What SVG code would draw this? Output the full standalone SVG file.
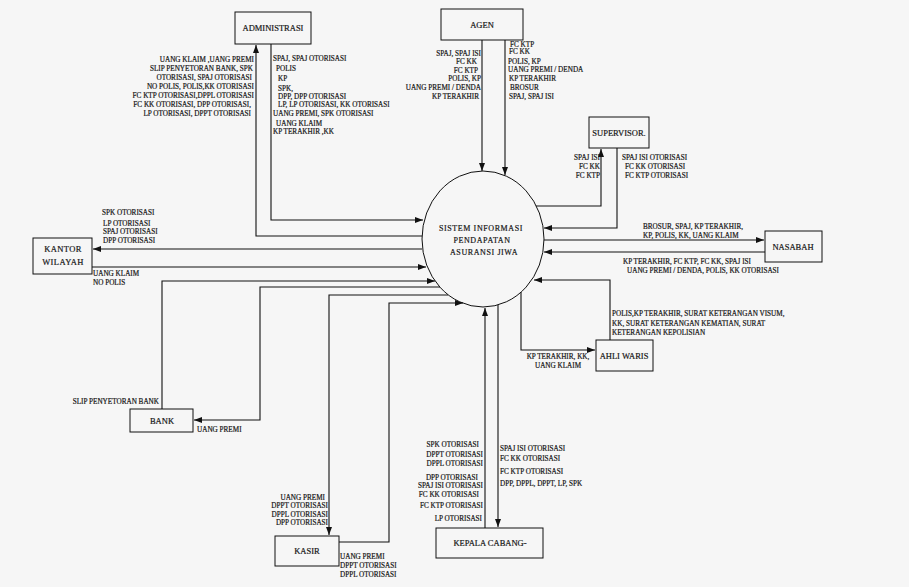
<svg xmlns="http://www.w3.org/2000/svg" width="909" height="587" viewBox="0 0 909 587">
<style>
.bg{fill:#f6f6f6}
.box{fill:none;stroke:#111;stroke-width:1}
.c{fill:none;stroke:#111;stroke-width:1.1}
text{font-family:"Liberation Serif","Times New Roman",serif;fill:#111;stroke:#222;stroke-width:0.2px}
.l{font-size:7.2px}
.e{text-anchor:end}
.m{text-anchor:middle}
.n{font-size:8.5px;text-anchor:middle}
.p{font-size:8px;text-anchor:middle;letter-spacing:0.6px}
</style>
<defs>
<marker id="ah" markerUnits="userSpaceOnUse" markerWidth="9" markerHeight="7" refX="8" refY="3" orient="auto">
<path d="M0,0 L8,3 L0,6 z" fill="#111"/>
</marker>
</defs>
<rect class="bg" x="0" y="0" width="909" height="587"/>

<g id="connectors">
<path class="c" d="M271,44 V220 H423" marker-end="url(#ah)"/>
<path class="c" d="M422,236 H256 V45" marker-end="url(#ah)"/>
<path class="c" d="M482,40 V171" marker-end="url(#ah)"/>
<path class="c" d="M505,40 V175" marker-end="url(#ah)"/>
<path class="c" d="M536,206 H601 V149" marker-end="url(#ah)"/>
<path class="c" d="M617,148 V228 H544" marker-end="url(#ah)"/>
<path class="c" d="M544,240 H764" marker-end="url(#ah)"/>
<path class="c" d="M765,252 H544" marker-end="url(#ah)"/>
<path class="c" d="M610,340 V280 H534" marker-end="url(#ah)"/>
<path class="c" d="M521,292 V350 H595" marker-end="url(#ah)"/>
<path class="c" d="M485,528 V308" marker-end="url(#ah)"/>
<path class="c" d="M498,305 V527" marker-end="url(#ah)"/>
<path class="c" d="M339,542 H389 V303 H463" marker-end="url(#ah)"/>
<path class="c" d="M448,295 H329 V535" marker-end="url(#ah)"/>
<path class="c" d="M440,287 H260 V420 H194" marker-end="url(#ah)"/>
<path class="c" d="M162,409 V281 H435" marker-end="url(#ah)"/>
<path class="c" d="M92,267 H426" marker-end="url(#ah)"/>
<path class="c" d="M422,249 H93" marker-end="url(#ah)"/>
</g>

<g id="node-sistem">
<ellipse class="box" cx="483" cy="239" rx="61" ry="68"/>
<text class="p" x="481" y="231">SISTEM  INFORMASI</text>
<text class="p" x="482" y="243">PENDAPATAN</text>
<text class="p" x="484" y="255">ASURANSI JIWA</text>
</g>
<g id="node-administrasi">
<rect class="box" x="235" y="12" width="76" height="32"/>
<text class="n" x="273" y="31">ADMINISTRASI</text>
</g>
<g id="node-agen">
<rect class="box" x="441" y="9" width="82" height="31"/>
<text class="n" x="482" y="28">AGEN</text>
</g>
<g id="node-supervisor">
<rect class="box" x="589" y="117" width="60" height="31"/>
<text class="n" x="619" y="136">SUPERVISOR.</text>
</g>
<g id="node-nasabah">
<rect class="box" x="765" y="231" width="57" height="31"/>
<text class="n" x="793" y="250">NASABAH</text>
</g>
<g id="node-kantor-wilayah">
<rect class="box" x="33" y="238" width="59" height="36"/>
<text class="n" x="63" y="252" style="letter-spacing:0.4px">KANTOR</text>
<text class="n" x="63" y="265" style="letter-spacing:0.4px">WILAYAH</text>
</g>
<g id="node-ahli-waris">
<rect class="box" x="596" y="340" width="57" height="31"/>
<text class="n" x="624" y="359">AHLI WARIS</text>
</g>
<g id="node-bank">
<rect class="box" x="130" y="409" width="63" height="23"/>
<text class="n" x="162" y="424">BANK</text>
</g>
<g id="node-kasir">
<rect class="box" x="275" y="536" width="64" height="30"/>
<text class="n" x="307" y="554">KASIR</text>
</g>
<g id="node-kepala-cabang">
<rect class="box" x="436" y="528" width="107" height="30"/>
<text class="n" x="490" y="546">KEPALA CABANG-</text>
</g>

<g id="labels" class="l">
<text class="l e" x="254" y="61.5">UANG KLAIM ,UANG PREMI</text>
<text class="l e" x="253" y="70.5">SLIP PENYETORAN BANK, SPK</text>
<text class="l e" x="252" y="80">OTORISASI, SPAJ OTORISASI</text>
<text class="l e" x="254" y="89">NO POLIS, POLIS,KK OTORISASI</text>
<text class="l e" x="254" y="98">FC KTP OTORISASI,DPPL OTORISASI</text>
<text class="l e" x="251" y="106.5">FC KK OTORISASI,  DPP OTORISASI,</text>
<text class="l e" x="251" y="115.5">LP OTORISASI, DPPT OTORISASI</text>

<text class="l" x="273" y="60.5">SPAJ, SPAJ OTORISASI</text>
<text class="l" x="276" y="70.5">POLIS</text>
<text class="l" x="278" y="80.5">KP</text>
<text class="l" x="278" y="90.5">SPK,</text>
<text class="l" x="278" y="99">DPP, DPP OTORISASI</text>
<text class="l" x="278" y="106.5">LP, LP OTORISASI,  KK OTORISASI</text>
<text class="l" x="273" y="116">UANG PREMI, SPK OTORISASI</text>
<text class="l" x="276" y="125.5">UANG KLAIM</text>
<text class="l" x="273" y="134">KP  TERAKHIR ,KK</text>

<text class="l e" x="481" y="55.5">SPAJ, SPAJ ISI</text>
<text class="l e" x="477" y="64">FC KK</text>
<text class="l e" x="478" y="72.5">FC KTP</text>
<text class="l e" x="481" y="81">POLIS, KP</text>
<text class="l e" x="481" y="89.5">UANG PREMI / DENDA</text>
<text class="l e" x="479" y="98.5">KP TERAKHIR</text>

<text class="l" x="510" y="46.5">FC KTP</text>
<text class="l" x="509" y="54">FC KK</text>
<text class="l" x="508" y="63.5">POLIS, KP</text>
<text class="l" x="508" y="71.5">UANG PREMI / DENDA</text>
<text class="l" x="509" y="80.5">KP TERAKHIR</text>
<text class="l" x="510" y="89.5">BROSUR</text>
<text class="l" x="509" y="98.5">SPAJ, SPAJ ISI</text>

<text class="l e" x="600" y="160">SPAJ ISI</text>
<text class="l e" x="600" y="169">FC KK</text>
<text class="l e" x="600" y="178">FC KTP</text>
<text class="l" x="622" y="159.5">SPAJ ISI OTORISASI</text>
<text class="l" x="625" y="168.5">FC KK  OTORISASI</text>
<text class="l" x="625" y="177.5">FC KTP OTORISASI</text>

<text class="l" x="643" y="229">BROSUR, SPAJ, KP TERAKHIR,</text>
<text class="l" x="643" y="237.5">KP, POLIS, KK,  UANG KLAIM</text>
<text class="l" x="623" y="263.5">KP TERAKHIR, FC KTP,  FC KK,   SPAJ ISI</text>
<text class="l" x="627" y="272.5">UANG PREMI / DENDA, POLIS, KK OTORISASI</text>

<text class="l" x="102" y="214.5">SPK OTORISASI</text>
<text class="l" x="103" y="225.5">LP OTORISASI</text>
<text class="l" x="103" y="234">SPAJ OTORISASI</text>
<text class="l" x="103" y="242.5">DPP OTORISASI</text>
<text class="l" x="93" y="275.5">UANG KLAIM</text>
<text class="l" x="93" y="284.5">NO POLIS</text>

<text class="l e" x="159" y="404">SLIP PENYETORAN BANK</text>
<text class="l" x="197" y="432">UANG PREMI</text>

<text class="l" x="612" y="316">POLIS,KP TERAKHIR, SURAT KETERANGAN VISUM,</text>
<text class="l" x="612" y="325.5">KK, SURAT KETERANGAN KEMATIAN, SURAT</text>
<text class="l" x="612" y="334.5">KETERANGAN KEPOLISIAN</text>
<text class="l m" x="558" y="358.5">KP TERAKHIR, KK,</text>
<text class="l m" x="558" y="367.5">UANG KLAIM</text>

<text class="l e" x="479" y="446.5">SPK OTORISASI</text>
<text class="l e" x="483" y="456.5">DPPT OTORISASI</text>
<text class="l e" x="483" y="466">DPPL OTORISASI</text>
<text class="l e" x="478" y="479.5">DPP OTORISASI</text>
<text class="l e" x="483" y="487.5">SPAJ ISI OTORISASI</text>
<text class="l e" x="479" y="496.5">FC KK OTORISASI</text>
<text class="l e" x="483" y="508">FC KTP OTORISASI</text>
<text class="l e" x="482" y="521">LP OTORISASI</text>
<text class="l" x="500" y="450.5">SPAJ ISI OTORISASI</text>
<text class="l" x="500" y="461">FC KK OTORISASI</text>
<text class="l" x="500" y="473.5">FC KTP OTORISASI</text>
<text class="l" x="500" y="485.5">DPP, DPPL, DPPT, LP, SPK</text>

<text class="l e" x="325" y="499.5">UANG PREMI</text>
<text class="l e" x="328" y="508">DPPT OTORISASI</text>
<text class="l e" x="328" y="516.5">DPPL OTORISASI</text>
<text class="l e" x="328" y="525">DPP OTORISASI</text>
<text class="l" x="340" y="558.5">UANG PREMI</text>
<text class="l" x="340" y="567.5">DPPT OTORISASI</text>
<text class="l" x="340" y="576.5">DPPL OTORISASI</text>
</g>
</svg>
